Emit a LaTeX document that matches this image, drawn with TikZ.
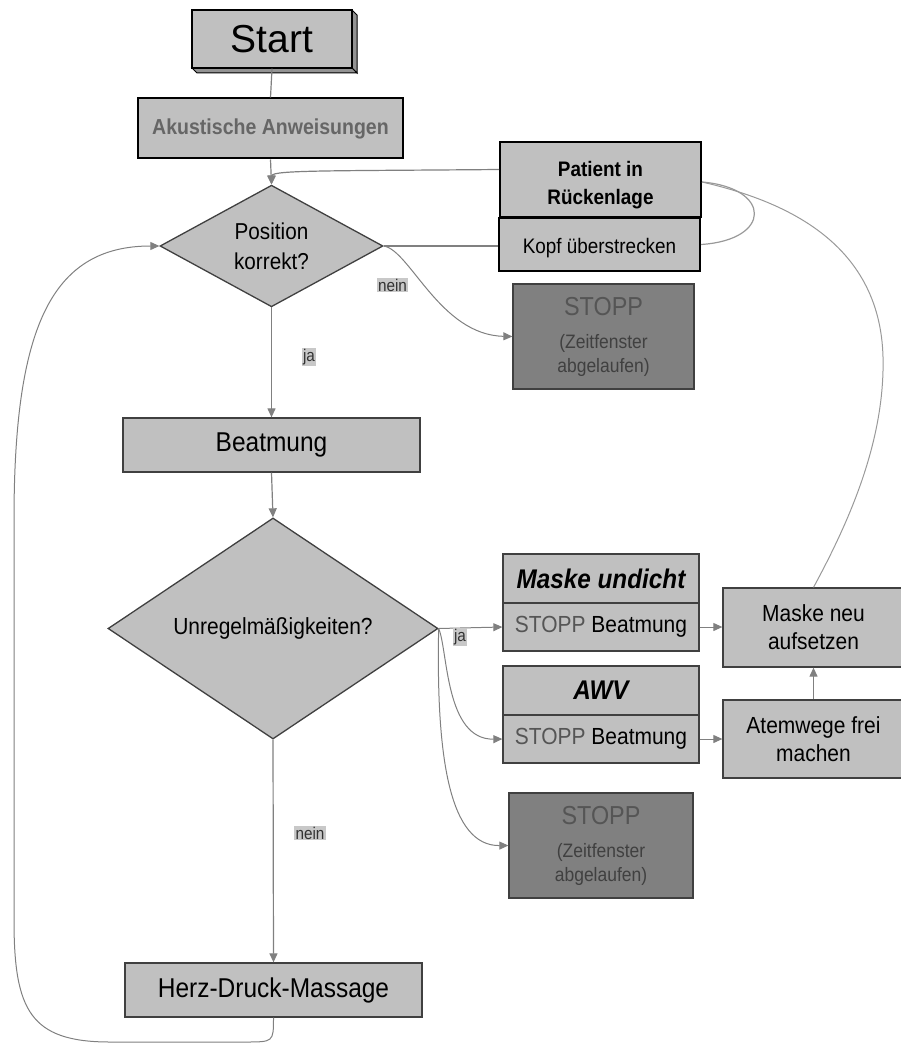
\documentclass[tikz,border=0pt]{standalone}
\usepackage{fontspec}
\setmainfont[FakeStretch=0.9]{Liberation Sans}
\newfontfamily\startfont{Liberation Sans}
\usetikzlibrary{shapes.geometric,arrows.meta}
\definecolor{boxgray}{HTML}{C0C0C0}
\definecolor{darkbox}{HTML}{808080}
\definecolor{linegray}{HTML}{808080}
\definecolor{edgegray}{HTML}{404040}
\definecolor{stopgray}{HTML}{555555}
\definecolor{labgray}{HTML}{C8C8C8}
\tikzset{
  box/.style={draw=edgegray, line width=1.3pt, fill=boxgray, rectangle, inner sep=0pt, align=center, text=black},
  strongbox/.style={box, draw=black, line width=2pt},
  stopbox/.style={box, fill=darkbox, text=stopgray, font=\fontsize{19.4}{24}\selectfont},
  decision/.style={draw=edgegray, line width=1.3pt, fill=boxgray, diamond, inner sep=0pt, align=center, text=black},
  conn/.style={draw=linegray, line width=1.2pt},
  arr/.style={conn, -{Triangle[length=9pt,width=8pt]}},
  lab/.style={fill=labgray, inner sep=1.2pt, text=black!80, font=\fontsize{17}{19}\selectfont},
}
\begin{document}
\begin{tikzpicture}[x=1pt,y=-1pt]
\useasboundingbox (0,0) rectangle (901,1043);

% Start 3D box
\fill[darkbox!70!boxgray, draw=black, line width=1pt] (352,10) -- (357,15) -- (357,73) -- (352,68) -- cycle;
\fill[darkbox!70!boxgray, draw=black, line width=1pt] (192,68) -- (197,73) -- (357,73) -- (352,68) -- cycle;
\node[box, draw=black, line width=1.3pt, minimum width=160pt, minimum height=58pt, font=\startfont\fontsize{39}{40}\selectfont] (start) at (272,39) {Start};

\node[strongbox, minimum width=265pt, minimum height=60pt, font=\bfseries\fontsize{21.7}{24}\selectfont, text=black!60] (akust) at (270.5,128.5) {Akustische Anweisungen};

\node[decision, minimum width=223pt, minimum height=102pt, font=\fontsize{23}{30}\selectfont] (pos) at (271.5,246) {Position\\korrekt?};

\node[strongbox, minimum width=201pt, minimum height=75pt, font=\bfseries\fontsize{21}{27}\selectfont] (patient) at (600.5,179.5) {\raisebox{-6pt}[\height][\depth]{\begin{tabular}{@{}c@{}}Patient in\\[1pt]Rückenlage\end{tabular}}};
\node[strongbox, minimum width=201pt, minimum height=53pt, font=\fontsize{21}{24}\selectfont] (kopf) at (599.5,244.5) {\raisebox{-4pt}[\height][\depth]{Kopf überstrecken}};

\node[stopbox, minimum width=181pt, minimum height=105pt] (stop1) at (603.5,336.5) {{\fontsize{26}{28}\selectfont STOPP}\\[9pt]\textcolor{black!75}{(Zeitfenster}\\\textcolor{black!75}{abgelaufen)}};

\node[box, minimum width=297pt, minimum height=54pt, font=\fontsize{27.2}{30}\selectfont] (beat) at (271.5,445) {Beatmung};

\node[decision, minimum width=330pt, minimum height=151pt, font=\fontsize{23.3}{26}\selectfont] (unreg) at (273,628.5) {Unregelmäßigkeiten?};

\node[box, minimum width=196pt, minimum height=49pt, font=\bfseries\itshape\fontsize{27}{30}\selectfont] (maskT) at (601,578.5) {Maske undicht};
\node[box, minimum width=196pt, minimum height=48pt, font=\fontsize{23.3}{26}\selectfont] (maskB) at (601,627) {\textcolor{stopgray}{STOPP} Beatmung};

\node[box, minimum width=196pt, minimum height=49pt, font=\bfseries\itshape\fontsize{27}{30}\selectfont] (awvT) at (601,690.5) {AWV};
\node[box, minimum width=196pt, minimum height=48pt, font=\fontsize{23.3}{26}\selectfont] (awvB) at (601,739) {\textcolor{stopgray}{STOPP} Beatmung};

\node[box, minimum width=181pt, minimum height=79pt, font=\fontsize{23.3}{28}\selectfont] (neu) at (813.5,627.5) {Maske neu\\aufsetzen};
\node[box, minimum width=181pt, minimum height=78pt, font=\fontsize{23.3}{28}\selectfont] (atem) at (813.5,739) {Atemwege frei\\machen};

\node[stopbox, minimum width=184pt, minimum height=105pt] (stop2) at (601,845.5) {{\fontsize{26}{28}\selectfont STOPP}\\[9pt]\textcolor{black!75}{(Zeitfenster}\\\textcolor{black!75}{abgelaufen)}};

\node[box, minimum width=297pt, minimum height=54pt, font=\fontsize{27.2}{30}\selectfont] (herz) at (273.5,990) {Herz-Druck-Massage};

% connectors
\draw[conn] (start.south) -- (akust.north);
\draw[arr] (akust.south) -- (pos.north);
\draw[arr] ([yshift=10pt]patient.west) .. controls (330,171) and (272,170) .. (pos.north);
\draw[conn] (pos.east) -- (pos.east -| kopf.west);
\draw[conn, draw=linegray!80] (kopf.east) .. controls (772,240) and (772,188) .. ([yshift=-2.5pt]patient.east);
\draw[conn, draw=linegray!80, line width=1pt] (neu.north) .. controls (850,520) and (885,440) .. (883,357) .. controls (880,240) and (780,200) .. ([yshift=-2.5pt]patient.east);
\draw[arr, line width=1pt] (pos.east) .. controls (410,250) and (440,335) .. (stop1.west);
\draw[arr] (pos.south) -- (beat.north);
\draw[arr] (beat.south) -- (unreg.north);
\draw[arr, line width=1pt] (unreg.east) -- (maskB.west);
\draw[arr, line width=1pt] (unreg.east) .. controls (448,650) and (445,740) .. (awvB.west);
\draw[arr, line width=1pt] (unreg.east) .. controls (436,760) and (450,846) .. (stop2.west);
\draw[arr, line width=1pt] (maskB.east) -- (neu.west |- maskB.east);
\draw[arr, line width=1pt] (awvB.east) -- (atem.west |- awvB.east);
\draw[arr] (atem.north) -- (neu.south);
\draw[arr] (unreg.south) -- (herz.north);
\draw[arr, line width=1pt] (herz.south) .. controls (273.5,1042) .. (245,1042) -- (110,1042) .. controls (30,1042) and (14,1010) .. (14,920) -- (14,520) .. controls (14,330) and (50,246) .. (pos.west);

% labels
\node[lab] (nein1) at (392.5,285) {nein};
\node[lab] (ja1) at (309,357) {ja};
\node[lab] (ja2) at (460,637) {ja};
\node[lab] (nein2) at (310,833) {nein};
\end{tikzpicture}
\end{document}
